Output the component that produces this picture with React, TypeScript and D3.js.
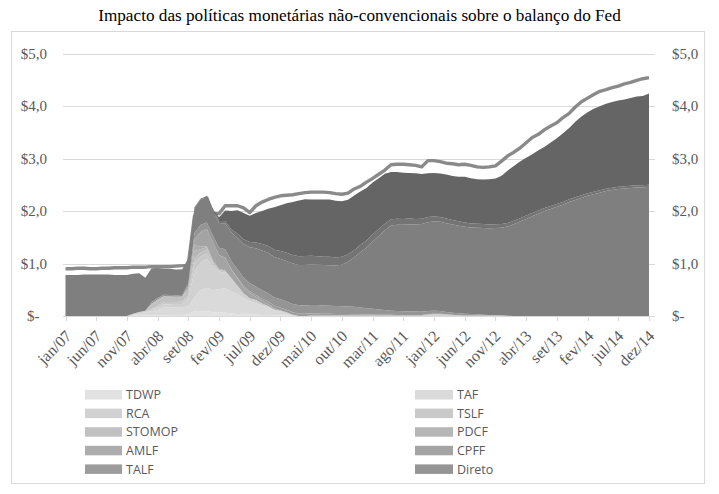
import React from "react";
import * as d3 from "d3";

const categories: string[] = (
  "jan/07 fev/07 mar/07 abr/07 mai/07 jun/07 jul/07 ago/07 set/07 out/07 nov/07 dez/07 " +
  "jan/08 fev/08 mar/08 abr/08 mai/08 jun/08 jul/08 ago/08 set/08 out/08 nov/08 dez/08 " +
  "jan/09 fev/09 mar/09 abr/09 mai/09 jun/09 jul/09 ago/09 set/09 out/09 nov/09 dez/09 " +
  "jan/10 fev/10 mar/10 abr/10 mai/10 jun/10 jul/10 ago/10 set/10 out/10 nov/10 dez/10 " +
  "jan/11 fev/11 mar/11 abr/11 mai/11 jun/11 jul/11 ago/11 set/11 out/11 nov/11 dez/11 " +
  "jan/12 fev/12 mar/12 abr/12 mai/12 jun/12 jul/12 ago/12 set/12 out/12 nov/12 dez/12 " +
  "jan/13 fev/13 mar/13 abr/13 mai/13 jun/13 jul/13 ago/13 set/13 out/13 nov/13 dez/13 " +
  "jan/14 fev/14 mar/14 abr/14 mai/14 jun/14 jul/14 ago/14 set/14 out/14 nov/14 dez/14"
).split(" ");

const tickLabels = ["jan/07", "jun/07", "nov/07", "abr/08", "set/08", "fev/09", "jul/09", "dez/09", "mai/10", "out/10",
  "mar/11", "ago/11", "jan/12", "jun/12", "nov/12", "abr/13", "set/13", "fev/14", "jul/14", "dez/14"];

const yTicks = [0, 1, 2, 3, 4, 5];
const yTickLabels = ["$-", "$1,0", "$2,0", "$3,0", "$4,0", "$5,0"];

const Z12 = [0, 0, 0, 0, 0, 0, 0, 0, 0, 0, 0, 0];

// US$ trilhões, mensal (jan/07 .. dez/14)
const TDWP = [
  0, 0, 0, 0, 0, 0, 0, 0, 0, 0, 0, 0.005,
  0.005, 0.01, 0.01, 0.012, 0.015, 0.015, 0.017, 0.02, 0.03, 0.1, 0.09, 0.09,
  0.07, 0.065, 0.06, 0.05, 0.04, 0.035, 0.03, 0.025, 0.02, 0.02, 0.015, 0.01,
  0.01, 0.005, 0, 0, 0, 0, 0, 0, 0, 0, 0, 0,
  ...Z12, ...Z12, ...Z12, ...Z12,
];
const TAF = [
  0, 0, 0, 0, 0, 0, 0, 0, 0, 0, 0, 0.02,
  0.04, 0.06, 0.08, 0.1, 0.15, 0.15, 0.15, 0.15, 0.15, 0.26, 0.4, 0.45,
  0.42, 0.45, 0.47, 0.41, 0.38, 0.3, 0.25, 0.22, 0.18, 0.14, 0.1, 0.08,
  0.05, 0.02, 0, 0, 0, 0, 0, 0, 0, 0, 0, 0,
  ...Z12, ...Z12, ...Z12, ...Z12,
];
const RCA = [
  0, 0, 0, 0, 0, 0, 0, 0, 0, 0, 0, 0.02,
  0.03, 0.03, 0.04, 0.05, 0.06, 0.06, 0.06, 0.06, 0.15, 0.5, 0.52, 0.55,
  0.45, 0.33, 0.3, 0.25, 0.15, 0.1, 0.06, 0.06, 0.04, 0.03, 0.01, 0.01,
  0, 0, 0, 0, 0.01, 0.01, 0.01, 0.01, 0.01, 0.01, 0.01, 0.01,
  0.01, 0.01, 0.01, 0.01, 0.01, 0.01, 0.01, 0.01, 0.01, 0.01, 0.01, 0.03,
  0.04, 0.04, 0.03, 0.02, 0.015, 0.01, 0.01, 0.01, 0.01, 0.01, 0.01, 0.01,
  0.003, 0, 0, 0, 0, 0, 0, 0, 0, 0, 0, 0,
  ...Z12,
];
const TSLF = [
  ...Z12,
  0, 0, 0, 0.03, 0.04, 0.04, 0.04, 0.04, 0.06, 0.15, 0.12, 0.1,
  0.06, 0.03, 0.02, 0.01, 0.005, 0, 0, 0, 0, 0, 0, 0,
  ...Z12, ...Z12, ...Z12, ...Z12, ...Z12,
];
const STOMOP = [
  ...Z12,
  0, 0, 0.08, 0.1, 0.1, 0.1, 0.1, 0.1, 0.08, 0.08, 0.08, 0.08,
  0.02, 0, 0, 0, 0, 0, 0, 0, 0, 0, 0, 0,
  ...Z12, ...Z12, ...Z12, ...Z12, ...Z12,
];
const PDCF = [
  ...Z12,
  0, 0, 0.02, 0.02, 0.01, 0.005, 0, 0, 0.05, 0.15, 0.06, 0.04,
  0.03, 0.02, 0.01, 0, 0, 0, 0, 0, 0, 0, 0, 0,
  ...Z12, ...Z12, ...Z12, ...Z12, ...Z12,
];
const AMLF = [
  ...Z12,
  0, 0, 0, 0, 0, 0, 0, 0, 0.05, 0.12, 0.05, 0.02,
  0.01, 0.005, 0.005, 0, 0, 0, 0, 0, 0, 0, 0, 0,
  ...Z12, ...Z12, ...Z12, ...Z12, ...Z12,
];
const CPFF = [
  ...Z12,
  0, 0, 0, 0, 0, 0, 0, 0, 0, 0.1, 0.28, 0.33,
  0.35, 0.26, 0.24, 0.16, 0.14, 0.11, 0.1, 0.06, 0.05, 0.04, 0.02, 0.01,
  0.01, 0, 0, 0, 0, 0, 0, 0, 0, 0, 0, 0,
  ...Z12, ...Z12, ...Z12, ...Z12,
];
const TALF = [
  ...Z12, ...Z12,
  0, 0, 0.005, 0.01, 0.02, 0.025, 0.03, 0.035, 0.04, 0.045, 0.048, 0.048,
  0.047, 0.045, 0.043, 0.042, 0.04, 0.038, 0.035, 0.032, 0.03, 0.028, 0.026, 0.024,
  0.022, 0.02, 0.017, 0.015, 0.013, 0.012, 0.011, 0.01, 0.01, 0.009, 0.008, 0.007,
  0.005, 0.004, 0.003, 0.002, 0.001, 0.001, 0.001, 0.001, 0.001, 0.001, 0.001, 0,
  ...Z12, ...Z12,
];
const Direto = [
  ...Z12,
  0, 0, 0.03, 0.03, 0.03, 0.03, 0.03, 0.03, 0.05, 0.12, 0.14, 0.12,
  0.12, 0.14, 0.16, 0.16, 0.16, 0.16, 0.16, 0.16, 0.16, 0.16, 0.16, 0.16,
  0.16, 0.16, 0.16, 0.16, 0.16, 0.16, 0.155, 0.155, 0.15, 0.15, 0.145, 0.14,
  0.13, 0.12, 0.11, 0.1, 0.09, 0.08, 0.075, 0.07, 0.065, 0.065, 0.065, 0.06,
  0.055, 0.05, 0.045, 0.04, 0.035, 0.03, 0.025, 0.02, 0.015, 0.01, 0.005, 0.003,
  ...Z12, ...Z12,
];
const Tesouro = [
  0.78, 0.78, 0.78, 0.79, 0.79, 0.79, 0.79, 0.79, 0.78, 0.78, 0.78, 0.76,
  0.74, 0.63, 0.65, 0.57, 0.5, 0.5, 0.49, 0.49, 0.48, 0.48, 0.48, 0.48,
  0.48, 0.47, 0.49, 0.54, 0.59, 0.64, 0.68, 0.73, 0.76, 0.77, 0.77, 0.77,
  0.77, 0.77, 0.77, 0.77, 0.77, 0.77, 0.77, 0.77, 0.77, 0.79, 0.85, 0.94,
  1.05, 1.15, 1.28, 1.4, 1.52, 1.62, 1.64, 1.65, 1.66, 1.66, 1.67, 1.69,
  1.7, 1.7, 1.69, 1.68, 1.67, 1.66, 1.65, 1.65, 1.65, 1.65, 1.66, 1.67,
  1.7, 1.75, 1.8, 1.85, 1.9, 1.95, 2.0, 2.04, 2.08, 2.12, 2.17, 2.21,
  2.25, 2.29, 2.32, 2.35, 2.38, 2.4, 2.42, 2.43, 2.44, 2.45, 2.45, 2.46,
];
const Agencias = [
  ...Z12,
  0, 0, 0, 0, 0, 0, 0, 0, 0, 0.01, 0.02, 0.02,
  0.03, 0.04, 0.05, 0.06, 0.08, 0.09, 0.1, 0.11, 0.12, 0.13, 0.14, 0.15,
  0.16, 0.16, 0.165, 0.17, 0.17, 0.16, 0.16, 0.16, 0.155, 0.15, 0.145, 0.14,
  0.14, 0.14, 0.135, 0.13, 0.125, 0.12, 0.115, 0.11, 0.11, 0.105, 0.1, 0.1,
  0.095, 0.09, 0.088, 0.085, 0.083, 0.08, 0.078, 0.076, 0.075, 0.073, 0.072, 0.07,
  0.068, 0.066, 0.064, 0.062, 0.06, 0.058, 0.056, 0.055, 0.054, 0.053, 0.052, 0.051,
  0.05, 0.049, 0.048, 0.046, 0.045, 0.044, 0.043, 0.042, 0.041, 0.04, 0.04, 0.039,
];
const MBS = [
  ...Z12, ...Z12,
  0, 0.07, 0.2, 0.35, 0.45, 0.5, 0.5, 0.56, 0.63, 0.71, 0.81, 0.87,
  0.94, 1.01, 1.06, 1.08, 1.07, 1.08, 1.09, 1.09, 1.08, 1.06, 1.04, 1.04,
  1.02, 1.0, 0.99, 0.97, 0.95, 0.9, 0.89, 0.88, 0.87, 0.87, 0.85, 0.83,
  0.83, 0.83, 0.84, 0.84, 0.85, 0.87, 0.86, 0.85, 0.85, 0.86, 0.87, 0.92,
  1.0, 1.04, 1.08, 1.1, 1.12, 1.15, 1.17, 1.21, 1.25, 1.31, 1.36, 1.44,
  1.5, 1.54, 1.58, 1.6, 1.62, 1.63, 1.64, 1.65, 1.67, 1.69, 1.7, 1.74,
];
const Total = [
  0.9, 0.9, 0.91, 0.91, 0.9, 0.9, 0.91, 0.91, 0.92, 0.92, 0.92, 0.93,
  0.93, 0.93, 0.94, 0.94, 0.94, 0.94, 0.95, 0.96, 0.98, 1.9, 2.1, 2.25,
  1.95, 1.95, 2.1, 2.1, 2.1, 2.06, 1.97, 2.1, 2.17, 2.22, 2.26, 2.29,
  2.3, 2.31, 2.33, 2.35, 2.36, 2.36, 2.36, 2.35, 2.33, 2.32, 2.34, 2.42,
  2.47, 2.55, 2.62, 2.7, 2.78, 2.88, 2.89, 2.89, 2.88, 2.87, 2.84, 2.96,
  2.96, 2.94, 2.91, 2.9, 2.88, 2.89, 2.87, 2.84, 2.83, 2.84, 2.86, 2.95,
  3.05, 3.12, 3.2, 3.3, 3.4, 3.46, 3.55, 3.62, 3.68, 3.78, 3.86, 3.98,
  4.08, 4.15, 4.22, 4.28, 4.31, 4.35, 4.38, 4.42, 4.45, 4.49, 4.52, 4.54,
];

const seriesKeys = ["TDWP", "TAF", "RCA", "TSLF", "STOMOP", "PDCF", "AMLF", "CPFF", "TALF", "Direto", "Tesouro", "Agencias", "MBS"];
const seriesData: Record<string, number[]> = { TDWP, TAF, RCA, TSLF, STOMOP, PDCF, AMLF, CPFF, TALF, Direto, Tesouro, Agencias, MBS };
const seriesColors: Record<string, string> = {
  TDWP: "#e2e2e2", TAF: "#dadada", RCA: "#d1d1d1", TSLF: "#c9c9c9", STOMOP: "#c1c1c1",
  PDCF: "#b6b6b6", AMLF: "#adadad", CPFF: "#a4a4a4", TALF: "#9c9c9c", Direto: "#959595",
  Tesouro: "#7f7f7f", Agencias: "#747474", MBS: "#656565",
};
const legendLeft = ["TDWP", "RCA", "STOMOP", "AMLF", "TALF"];
const legendRight = ["TAF", "TSLF", "PDCF", "CPFF", "Direto"];

const serif = "'Liberation Serif', 'Times New Roman', serif";
const sans = "'Open Sans', 'Noto Sans', sans-serif";

export default function App() {
  const W = 719, H = 494;
  const x = d3.scalePoint<string>().domain(categories).range([65.5, 649]);
  const y = d3.scaleLinear().domain([0, 5]).range([316, 53.5]);

  const rows = categories.map((c, i) => {
    const r: Record<string, any> = { cat: c };
    seriesKeys.forEach((k) => (r[k] = seriesData[k][i]));
    return r;
  });
  const stacked = d3.stack<Record<string, any>>().keys(seriesKeys)(rows);
  const area = d3.area<any>()
    .x((d) => x(d.data.cat) as number)
    .y0((d) => y(d[0]))
    .y1((d) => y(d[1]));
  const line = d3.line<number>()
    .x((_, i) => x(categories[i]) as number)
    .y((d) => y(d));

  const gx0 = 63, gx1 = 655;

  return (
    <svg width={W} height={H} style={{ position: "absolute", left: 0, top: 0, background: "#fff" }}>
      <rect x={0} y={0} width={W} height={H} fill="#fff" />
      <text x={359.5} y={21} textAnchor="middle" fontFamily={serif} fontSize={17.2} fill="#000">
        Impacto das políticas monetárias não-convencionais sobre o balanço do Fed
      </text>
      <rect x={11.5} y={31.5} width={693} height={452} fill="none" stroke="#d9d9d9" strokeWidth={1} />

      {yTicks.filter((t) => t > 0).map((t) => (
        <line key={t} x1={gx0} x2={gx1} y1={Math.round(y(t)) + 0.5} y2={Math.round(y(t)) + 0.5} stroke="#d9d9d9" strokeWidth={1} />
      ))}

      <path d={line(Total) || ""} fill="none" stroke="#8a8a8a" strokeWidth={3.4} strokeLinejoin="round" />

      {stacked.map((s) => (
        <path key={s.key} d={area(s as any) || ""} fill={seriesColors[s.key]} stroke="none" />
      ))}

      <line x1={gx0} x2={gx1} y1={316.5} y2={316.5} stroke="#d9d9d9" strokeWidth={1} />
      {tickLabels.map((lab) => {
        const px = Math.round(x(lab) as number) + 0.5;
        return (
          <g key={lab}>
            <line x1={px} x2={px} y1={316} y2={321} stroke="#d9d9d9" strokeWidth={1} />
            <text transform={`translate(${px + 6},${337}) rotate(-45)`} textAnchor="end"
              fontFamily={serif} fontSize={16} fill="#595959">{lab}</text>
          </g>
        );
      })}

      {yTicks.map((t, i) => (
        <g key={t}>
          {t === 0 ? (
            <text x={27} y={y(t)} dy="0.35em" textAnchor="start" fontFamily={serif} fontSize={15} fill="#595959">{yTickLabels[i]}</text>
          ) : (
            <text x={47} y={y(t)} dy="0.35em" textAnchor="end" fontFamily={serif} fontSize={15} fill="#595959">{yTickLabels[i]}</text>
          )}
          <text x={672} y={y(t)} dy="0.35em" textAnchor="start" fontFamily={serif} fontSize={15} fill="#595959">{yTickLabels[i]}</text>
        </g>
      ))}

      {legendLeft.map((k, i) => (
        <g key={k}>
          <rect x={85} y={390 + i * 18.6} width={37} height={9.5} fill={seriesColors[k]} />
          <text x={126} y={394.7 + i * 18.6} dy="0.36em" fontFamily={sans} fontSize={12.5} fill="#595959">{k}</text>
        </g>
      ))}
      {legendRight.map((k, i) => (
        <g key={k}>
          <rect x={415} y={390 + i * 18.6} width={38} height={9.5} fill={seriesColors[k]} />
          <text x={457} y={394.7 + i * 18.6} dy="0.36em" fontFamily={sans} fontSize={12.5} fill="#595959">{k}</text>
        </g>
      ))}
    </svg>
  );
}
